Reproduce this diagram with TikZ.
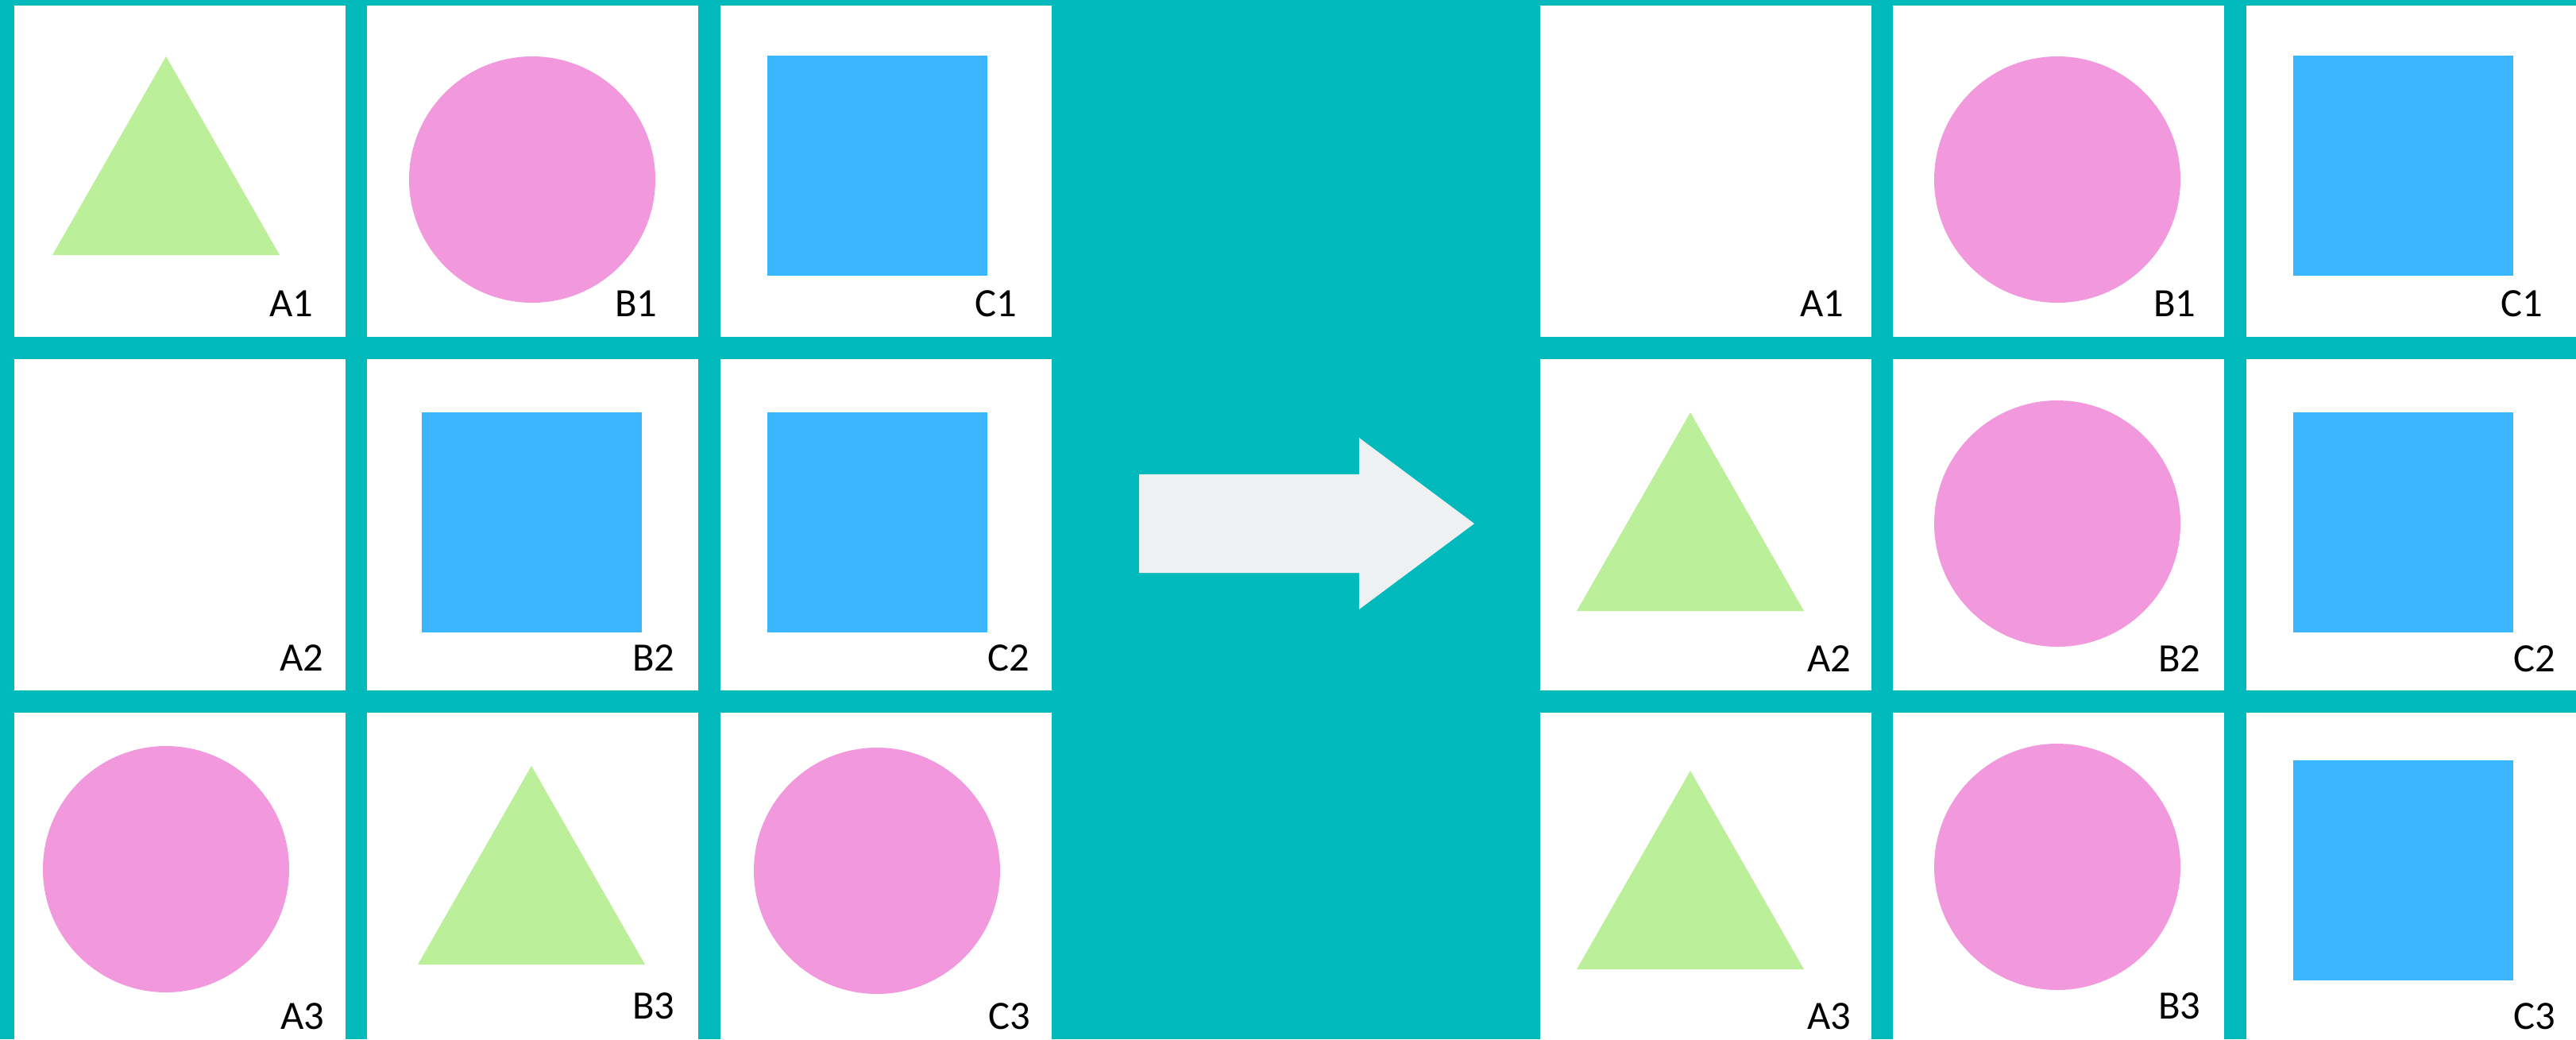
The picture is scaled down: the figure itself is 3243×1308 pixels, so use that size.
\documentclass[tikz,border=0pt]{standalone}
\usepackage{fontspec}
\setmainfont{Carlito}
\definecolor{gridteal}{HTML}{02BABC}
\definecolor{trigreen}{HTML}{BBEF99}
\definecolor{dotpink}{HTML}{F199DC}
\definecolor{sqblue}{HTML}{39B6FF}
\definecolor{arrowgrey}{HTML}{EEF0F2}
\tikzset{
  cell/.style={rectangle, fill=white, minimum size=4.17cm, inner sep=0pt},
  lbl/.style={anchor=base east, inner sep=0pt, font=\fontsize{14.4}{17}\selectfont},
  tri/.style={fill=trigreen},
  dot/.style={fill=dotpink},
  sq/.style={fill=sqblue}
}
\begin{document}
\begin{tikzpicture}[x=0.01cm, y=-0.01cm]
    \clip (0,0) rectangle (3243,1308);
    \fill[gridteal] (0,0) rectangle (3243,1308);
    % the two 3x3 grids, before and after
    \foreach \c/\x in {A/226.5, B/670.5, C/1115.5}
      \foreach \r/\y in {1/215.5, 2/660.5, 3/1105.5} {
        \node[cell] (L\c\r) at (\x,\y) {};
        \node[cell] (R\c\r) at (\x+1921,\y) {};
      }
    % left grid
    \fill[tri] (209,71) -- (352,321) -- (66,321) -- cycle;
    \fill[dot] (670,226) circle[radius=155];
    \fill[sq] (966,70) rectangle (1243,347);
    \fill[sq] (531,519) rectangle (808,796);
    \fill[sq] (966,519) rectangle (1243,796);
    \fill[dot] (209,1094) circle[radius=155];
    \fill[tri] (669,964) -- (812,1214) -- (526,1214) -- cycle;
    \fill[dot] (1104,1096) circle[radius=155];
    % right grid
    \fill[dot] (2590,226) circle[radius=155];
    \fill[sq] (2887,70) rectangle (3164,347);
    \fill[tri] (2128,519) -- (2271,769) -- (1985,769) -- cycle;
    \fill[dot] (2590,659) circle[radius=155];
    \fill[sq] (2887,519) rectangle (3164,796);
    \fill[tri] (2128,970) -- (2271,1220) -- (1985,1220) -- cycle;
    \fill[dot] (2590,1091) circle[radius=155];
    \fill[sq] (2887,957) rectangle (3164,1234);
    % big arrow
    \fill[arrowgrey] (1434,597) -- (1711,597) -- (1711,551) -- (1856,659)
        -- (1711,767) -- (1711,721) -- (1434,721) -- cycle;
    % cell names
    \foreach \lab/\x/\y in {A1/395/398, B1/828/398, C1/1281/398,
                            A2/408/844, B2/850/844, C2/1297/844,
                            A3/409/1295, B3/850/1282, C3/1298/1295}
      \node[lbl] (Ln\lab) at (\x,\y) {\lab};
    \foreach \lab/\x/\y in {A1/2322/398, B1/2765/398, C1/3202/398,
                            A2/2331/845, B2/2771/845, C2/3218/845,
                            A3/2331/1295, B3/2771/1282, C3/3218/1295}
      \node[lbl] (Rn\lab) at (\x,\y) {\lab};
\end{tikzpicture}
\end{document}
